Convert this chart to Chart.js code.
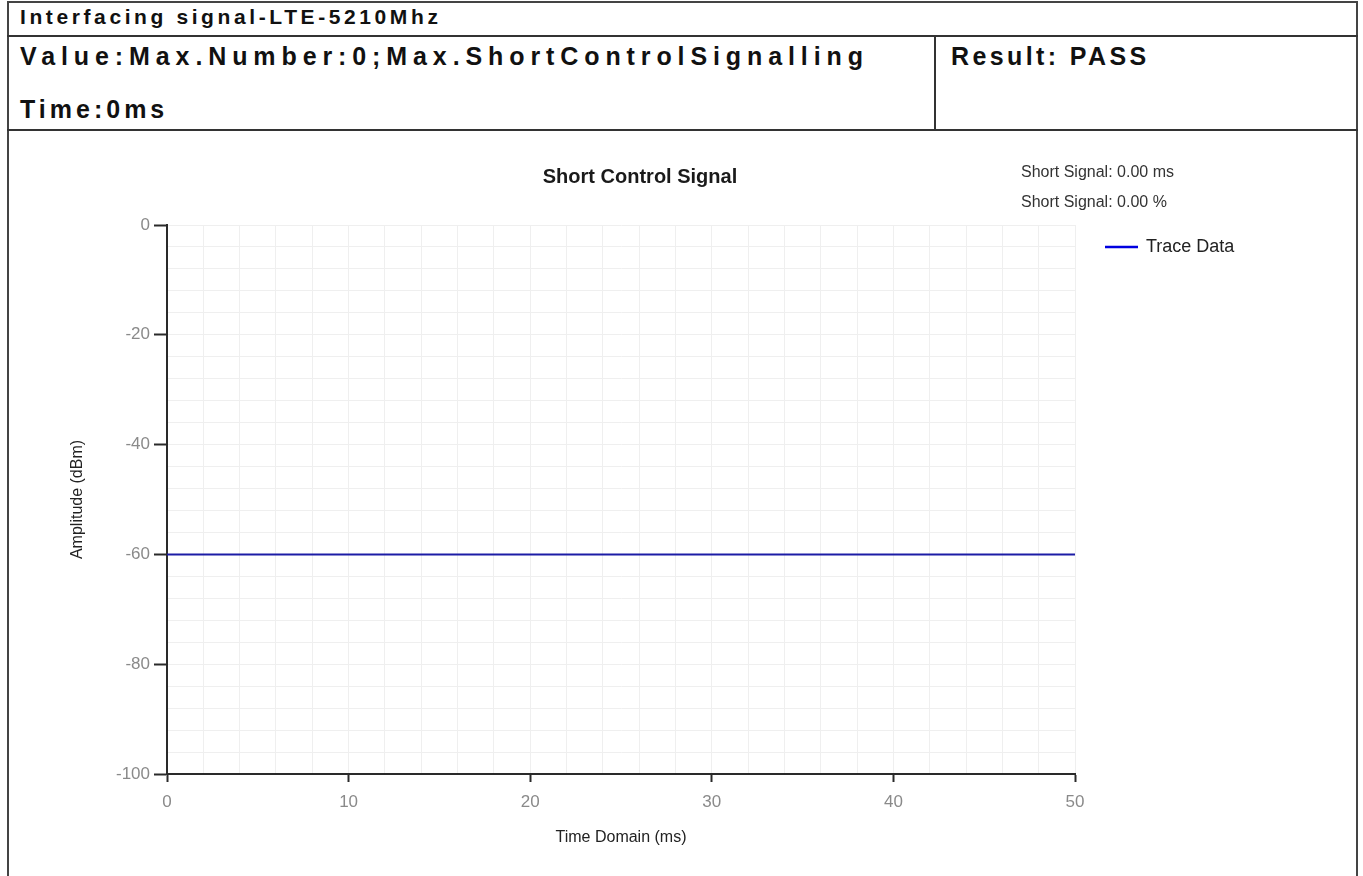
<!DOCTYPE html>
<html lang="en">
<head>
    <meta charset="UTF-8">
    <title>Short Control Signal</title>
    <style>
        html, body {
            margin: 0;
            padding: 0;
            background: #fff;
            overflow: hidden;
        }
        .frame {
            position: absolute;
            left: 7px;
            top: 1px;
            width: 1351px;
            height: 900px;
            border: 2px solid #444;
            border-bottom: none;
            box-sizing: border-box;
        }
        .row-line {
            position: absolute;
            left: 7px;
            width: 1351px;
            height: 2px;
            background: #333;
        }
        .col-line {
            position: absolute;
            left: 934px;
            top: 36px;
            width: 2px;
            height: 95px;
            background: #333;
        }
        .hdr {
            position: absolute;
            font-family: "Liberation Sans", Arial, sans-serif;
            font-weight: bold;
            color: #111;
            white-space: nowrap;
        }
        .chart-box {
            position: absolute;
            left: 9px;
            top: 132px;
            width: 1348px;
            height: 744px;
        }
    </style>
    <script src="https://cdn.jsdelivr.net/npm/chart.js"></script>
</head>
<body>

    <div class="frame"></div>
    <div class="row-line" style="top: 35px;"></div>
    <div class="row-line" style="top: 129px;"></div>
    <div class="col-line"></div>

    <div class="hdr" style="left: 20px; top: 5px; font-size: 21px; letter-spacing: 3.6px;">Interfacing signal-LTE-5210Mhz</div>
    <div class="hdr" style="left: 20px; top: 42px; font-size: 25px; letter-spacing: 5.9px;">Value:Max.Number:0;Max.ShortControlSignalling</div>
    <div class="hdr" style="left: 20px; top: 95px; font-size: 25px; letter-spacing: 4px;">Time:0ms</div>
    <div class="hdr" style="left: 951px; top: 42px; font-size: 25px; letter-spacing: 3.4px;">Result: PASS</div>

    <div class="chart-box">
        <canvas id="signal-chart"></canvas>
    </div>

    <script>
        // trace samples: time (ms) and amplitude (dBm)
        const timeMs = [0, 5, 10, 15, 20, 25, 30, 35, 40, 45, 50];
        const amplitude = [-60, -60, -60, -60, -60, -60, -60, -60, -60, -60, -60];

        const xTicks = [0, 10, 20, 30, 40, 50];
        const yTicks = [0, -20, -40, -60, -80, -100];

        const chartTitle = 'Short Control Signal';
        const infoLines = ['Short Signal: 0.00 ms', 'Short Signal: 0.00 %'];
        const seriesName = 'Trace Data';

        const traceColor = '#1c1ca6';
        const gridColor = '#efefef';
        const axisColor = '#2a2a2a';
        const labelColor = '#8a8a8a';
        const chartFont = '"Liberation Sans", Arial, sans-serif';

        // title, the two info lines and the legend entry drawn on top
        const overlayText = {
            id: 'overlayText',
            afterDraw(chart) {
                const c = chart.ctx;
                c.save();
                c.textBaseline = 'middle';

                c.fillStyle = '#1a1a1a';
                c.font = 'bold 20px ' + chartFont;
                c.textAlign = 'center';
                c.fillText(chartTitle, 631, 45);

                c.fillStyle = '#333';
                c.font = '16px ' + chartFont;
                c.textAlign = 'left';
                c.fillText(infoLines[0], 1012, 41);
                c.fillText(infoLines[1], 1012, 71);

                c.strokeStyle = '#0000e0';
                c.lineWidth = 2.5;
                c.beginPath();
                c.moveTo(1096, 115);
                c.lineTo(1129, 115);
                c.stroke();
                c.fillStyle = '#222';
                c.font = '18px ' + chartFont;
                c.fillText(seriesName, 1137, 115);
                c.restore();
            }
        };

        const ctx = document.getElementById('signal-chart').getContext('2d');

        const chart = new Chart(ctx, {
            type: 'line',
            data: {
                datasets: [{
                    label: seriesName,
                    data: timeMs.map((t, i) => ({ x: t, y: amplitude[i] })),
                    borderColor: traceColor,
                    borderWidth: 2,
                    pointRadius: 0,
                    fill: false,
                    tension: 0,
                }]
            },
            options: {
                responsive: true,
                maintainAspectRatio: false,
                animation: false,
                layout: {
                    padding: { left: 38, right: 282, top: 93, bottom: 22 }
                },
                plugins: {
                    legend: { display: false },
                    title: { display: false },
                    tooltip: { enabled: false },
                },
                scales: {
                    x: {
                        type: 'linear',
                        min: 0,
                        max: 50,
                        afterFit: (scale) => { scale.height = 80; },
                        ticks: {
                            stepSize: 2,
                            autoSkip: false,
                            maxRotation: 0,
                            padding: 10,
                            color: labelColor,
                            font: { family: chartFont, size: 17 },
                            callback: (v) => xTicks.includes(v) ? String(v) : '',
                        },
                        grid: {
                            color: gridColor,
                            lineWidth: 1,
                            tickLength: 8,
                            tickColor: (c) => xTicks.includes(c.tick && c.tick.value) ? axisColor : 'rgba(0,0,0,0)',
                            tickWidth: 2,
                        },
                        border: { color: axisColor, width: 2 },
                        title: {
                            display: true,
                            text: 'Time Domain (ms)',
                            color: '#222',
                            font: { family: chartFont, size: 16 },
                            padding: { top: 0, bottom: 7 },
                        },
                    },
                    y: {
                        type: 'linear',
                        min: -100,
                        max: 0,
                        afterFit: (scale) => { scale.width = 120; },
                        ticks: {
                            stepSize: 4,
                            autoSkip: false,
                            padding: 4,
                            color: labelColor,
                            font: { family: chartFont, size: 17 },
                            callback: (v) => yTicks.includes(v) ? String(v) : '',
                        },
                        grid: {
                            color: gridColor,
                            lineWidth: 1,
                            tickLength: 13,
                            tickColor: (c) => yTicks.includes(c.tick && c.tick.value) ? axisColor : 'rgba(0,0,0,0)',
                            tickWidth: 2,
                        },
                        border: { color: axisColor, width: 2 },
                        title: {
                            display: true,
                            text: 'Amplitude (dBm)',
                            color: '#222',
                            font: { family: chartFont, size: 16 },
                            padding: { top: 21, bottom: 0 },
                        },
                    },
                },
            },
            plugins: [overlayText],
        });
    </script>
</body>
</html>
